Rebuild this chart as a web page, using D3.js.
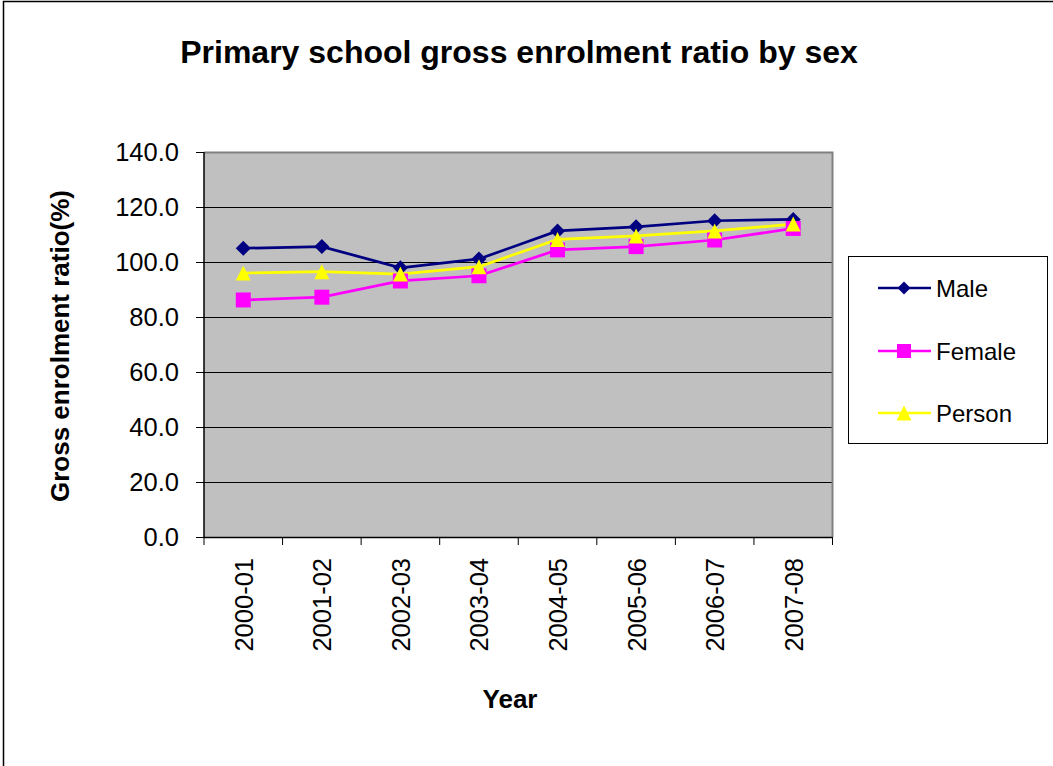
<!DOCTYPE html>
<html>
<head>
<meta charset="utf-8">
<script src="https://cdn.jsdelivr.net/npm/d3@7"></script>
<style>
  html, body { margin: 0; padding: 0; background: #fff; }
  svg { display: block; font-family: "Liberation Sans", Arial, sans-serif; }
</style>
</head>
<body>
<svg id="chart" width="1053" height="766"></svg>
<script>
// School years on the category axis
const years = ["2000-01", "2001-02", "2002-03", "2003-04", "2004-05", "2005-06", "2006-07", "2007-08"];
// Gross enrolment ratio (%) per series
const male   = [105.0, 105.6, 97.9, 101.1, 111.3, 112.8, 115.0, 115.5];
const female = [86.2, 87.2, 93.1, 95.0, 104.4, 105.6, 108.0, 112.2];
const person = [96.0, 96.5, 95.6, 98.3, 108.2, 109.5, 111.3, 113.8];
const yTicks = [0, 20, 40, 60, 80, 100, 120, 140];

const seriesNames = ["Male", "Female", "Person"];
const seriesValues = [male, female, person];
const seriesColors = ["#000080", "#FF00FF", "#FFFF00"];

// marker shapes; "size" is used as the half-width of the marker
const diamond = { draw(ctx, r) { ctx.moveTo(0, -r); ctx.lineTo(r, 0); ctx.lineTo(0, r); ctx.lineTo(-r, 0); ctx.closePath(); } };
const square = { draw(ctx, r) { ctx.rect(-r, -r, 2 * r, 2 * r); } };
const triangle = { draw(ctx, r) { ctx.moveTo(0, -r); ctx.lineTo(r, r); ctx.lineTo(-r, r); ctx.closePath(); } };
const seriesSymbols = [diamond, square, triangle];
const markerR = [7.5, 7.5, 7.5];
const legendR = [6.5, 7, 7.5];

const svg = d3.select("#chart");

// outer chart frame (continues past the right and bottom edges)
svg.append("rect")
  .attr("x", 3.5).attr("y", 1.5)
  .attr("width", 1060).attr("height", 780)
  .attr("fill", "#fff").attr("stroke", "#000").attr("stroke-width", 1.5);

const plot = { left: 204, top: 152, right: 832.5, bottom: 537 };

const x = d3.scaleBand().domain(years).range([plot.left, plot.right]);
const y = d3.scaleLinear().domain([0, 140]).range([plot.bottom, plot.top]);

// plot background
svg.append("rect")
  .attr("x", plot.left).attr("y", plot.top)
  .attr("width", plot.right - plot.left).attr("height", plot.bottom - plot.top)
  .attr("fill", "#C0C0C0");

// horizontal gridlines
svg.append("g")
  .selectAll("line")
  .data(yTicks.filter(t => t > 0 && t < 140))
  .join("line")
  .attr("x1", plot.left).attr("x2", plot.right)
  .attr("y1", d => y(d) + 0.5).attr("y2", d => y(d) + 0.5)
  .attr("stroke", "#000").attr("stroke-width", 1);

// top and right frame of the plot area
svg.append("path")
  .attr("d", `M${plot.left},${plot.top + 0.5}H${plot.right}V${plot.bottom}`)
  .attr("fill", "none").attr("stroke", "#808080").attr("stroke-width", 2);

// y axis
const yAxis = svg.append("g")
  .attr("transform", `translate(${plot.left},0)`)
  .call(d3.axisLeft(y).tickValues(yTicks).tickFormat(d3.format(".1f")).tickSize(8).tickPadding(17));
yAxis.select(".domain").attr("stroke", "#000").attr("stroke-width", 1.5)
  .attr("d", `M0,${plot.top}V${plot.bottom}`);
yAxis.selectAll(".tick line").attr("stroke", "#000");
yAxis.selectAll(".tick text")
  .attr("fill", "#000").attr("font-size", 25.5)
  .attr("font-family", "Liberation Sans, Arial, sans-serif");

// x axis: ticks sit on the category boundaries
const xAxisG = svg.append("g")
  .attr("transform", `translate(0,${plot.bottom})`);
xAxisG.append("line")
  .attr("x1", plot.left).attr("x2", plot.right)
  .attr("y1", 0.5).attr("y2", 0.5)
  .attr("stroke", "#000").attr("stroke-width", 1.5);
const bounds = years.map(d => x(d)).concat([x(years[years.length - 1]) + x.bandwidth()]);
xAxisG.selectAll("line.tick")
  .data(bounds)
  .join("line").attr("class", "tick")
  .attr("x1", d => d).attr("x2", d => d)
  .attr("y1", 0).attr("y2", 8)
  .attr("stroke", "#000").attr("stroke-width", 1);
xAxisG.selectAll("text")
  .data(years)
  .join("text")
  .attr("transform", d => `translate(${x(d) + x.bandwidth() / 2 + 9.5},21) rotate(-90)`)
  .attr("text-anchor", "end")
  .attr("font-size", 25.5)
  .attr("fill", "#000")
  .text(d => d);

// series lines and markers
const line = d3.line()
  .x((d, i) => x(years[i]) + x.bandwidth() / 2)
  .y(d => y(d));

seriesValues.forEach((vals, s) => {
  svg.append("path")
    .datum(vals)
    .attr("d", line)
    .attr("fill", "none")
    .attr("stroke", seriesColors[s])
    .attr("stroke-width", 2.75);
});
seriesValues.forEach((vals, s) => {
  svg.append("g")
    .selectAll("path")
    .data(vals)
    .join("path")
    .attr("transform", (d, i) => `translate(${x(years[i]) + x.bandwidth() / 2},${y(d)})`)
    .attr("d", d3.symbol().type(seriesSymbols[s]).size(markerR[s]))
    .attr("fill", seriesColors[s]);
});

// title
svg.append("text")
  .attr("x", 519).attr("y", 63)
  .attr("text-anchor", "middle")
  .attr("font-size", 32).attr("font-weight", "bold")
  .attr("fill", "#000")
  .text("Primary school gross enrolment ratio by sex");

// axis titles
svg.append("text")
  .attr("transform", `translate(69,346) rotate(-90)`)
  .attr("text-anchor", "middle")
  .attr("font-size", 26).attr("font-weight", "bold")
  .attr("fill", "#000")
  .text("Gross enrolment ratio(%)");

svg.append("text")
  .attr("x", 510).attr("y", 708)
  .attr("text-anchor", "middle")
  .attr("font-size", 26).attr("font-weight", "bold")
  .attr("fill", "#000")
  .text("Year");

// legend
const legend = svg.append("g");
legend.append("rect")
  .attr("x", 848.5).attr("y", 256.5)
  .attr("width", 199).attr("height", 187)
  .attr("fill", "#fff").attr("stroke", "#000").attr("stroke-width", 1);
const legendY = [288, 351, 413];
seriesNames.forEach((name, s) => {
  const g = legend.append("g").attr("transform", `translate(0,${legendY[s]})`);
  g.append("line")
    .attr("x1", 878).attr("x2", 931)
    .attr("y1", 0).attr("y2", 0)
    .attr("stroke", seriesColors[s]).attr("stroke-width", 2.5);
  g.append("path")
    .attr("transform", "translate(904,0)")
    .attr("d", d3.symbol().type(seriesSymbols[s]).size(legendR[s]))
    .attr("fill", seriesColors[s]);
  g.append("text")
    .attr("x", 936).attr("y", 8.5)
    .attr("font-size", 24)
    .attr("fill", "#000")
    .text(name);
});
</script>
</body>
</html>
